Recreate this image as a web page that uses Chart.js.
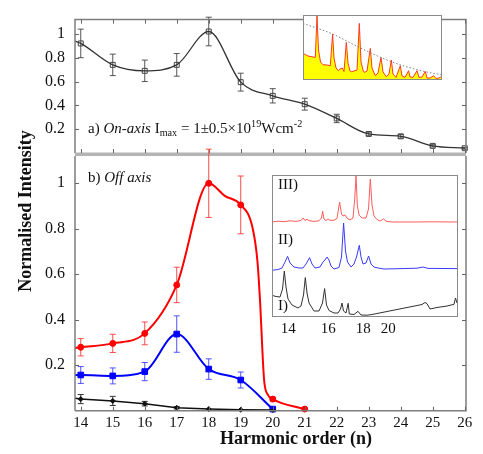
<!DOCTYPE html>
<html>
<head>
<meta charset="utf-8">
<script src="https://cdn.jsdelivr.net/npm/chart.js@4.4.0/dist/chart.umd.min.js"></script>
<style>
  html, body { margin: 0; padding: 0; background: #fff; }
  #wrap { position: relative; width: 483px; height: 454px; overflow: hidden; }
  canvas { position: absolute; }
</style>
</head>
<body>
<div id="wrap">
  <canvas id="topChart" width="483" height="454" style="left:0;top:0"></canvas>
  <canvas id="bottomChart" width="483" height="454" style="left:0;top:0"></canvas>
  <canvas id="topInset" width="139" height="65" style="left:303px;top:15px"></canvas>
  <canvas id="bottomInset" width="186" height="164" style="left:272px;top:175px"></canvas>
</div>
<script>
const SERIF = "'Liberation Serif', 'DejaVu Serif', serif";

// axes
const X_TICKS = [14, 15, 16, 17, 18, 19, 20, 21, 22, 23, 24, 25, 26];
const Y_TICKS = [0.2, 0.4, 0.6, 0.8, 1];

// a) on-axis
const TOP_HARMONICS = [14, 15, 16, 17, 18, 19, 20, 21, 22, 23, 24, 25, 26];
const TOP_VALUES = [0.92, 0.74, 0.69, 0.74, 1.02, 0.595, 0.48, 0.41, 0.29, 0.16, 0.14, 0.06, 0.04];
const TOP_ERRORS = [0.12, 0.09, 0.09, 0.095, 0.12, 0.075, 0.06, 0.05, 0.035, 0.015, 0.015, 0.01, 0.008];
const TOP_FIT_X = [13.82, 14, 15, 16, 17, 18, 19, 20, 21, 22, 23, 24, 25, 26];
const TOP_FIT_Y = [0.94, 0.92, 0.74, 0.69, 0.74, 1.02, 0.595, 0.48, 0.41, 0.29, 0.16, 0.14, 0.06, 0.04];

// b) off axis
const RED_HARMONICS = [14, 15, 16, 17, 18, 19, 20, 21];
const RED_VALUES = [0.279, 0.296, 0.34, 0.553, 1.0, 0.905, 0.051, 0.007];
const RED_ERRORS = [0.038, 0.04, 0.05, 0.078, 0.15, 0.127, 0.008, 0];
const RED_FIT_X = [13.82, 14, 15, 16, 17, 18, 18.5, 19, 19.36, 19.52, 19.6, 19.73, 19.85, 20, 21];
const RED_FIT_Y = [0.276, 0.279, 0.296, 0.34, 0.553, 1.0, 0.945, 0.905, 0.81, 0.66, 0.49, 0.135, 0.07, 0.051, 0.007];

const BLUE_HARMONICS = [14, 15, 16, 17, 18, 19, 20];
const BLUE_VALUES = [0.157, 0.153, 0.172, 0.337, 0.183, 0.135, 0.007];
const BLUE_ERRORS = [0.037, 0.035, 0.04, 0.08, 0.045, 0.035, 0];
const BLUE_FIT_X = [13.82, 14, 15, 16, 17, 18, 19, 20];
const BLUE_FIT_Y = [0.157, 0.157, 0.153, 0.172, 0.337, 0.183, 0.135, 0.007];

const BLACK_HARMONICS = [14, 15, 16, 17, 18, 19, 20];
const BLACK_VALUES = [0.051, 0.043, 0.031, 0.013, 0.007, 0.004, 0.003];
const BLACK_ERRORS = [0.02, 0.02, 0.01, 0.005, 0, 0, 0];
const BLACK_FIT_X = [13.82, 14, 15, 16, 17, 18, 19, 20];
const BLACK_FIT_Y = [0.055, 0.051, 0.043, 0.031, 0.013, 0.007, 0.004, 0.003];

// inset of panel a) : raw spectrum + envelope
const TOP_SPECTRUM = [[0,26.6],[5,24],[10,23],[12.3,22.6],[14,64],[15.5,30],[17.5,18],[20,15.3],[24,15],[27.3,14.3],
  [29.6,46],[31,22],[33,12],[35.3,9.3],[37,11],[39.3,12],[41,8.5],[43.3,37.6],[45,17],[47,9],[48.3,8.3],[51,9],
  [54,10],[56.3,56.6],[58,18],[60,10],[61.3,7.6],[64,9],[67.3,31.6],[69,12],[72.3,4.3],[75,7],[78,22.6],[80,8],
  [83.3,3.3],[86,6],[88.3,20],[90,6],[93,2.6],[97.3,14.3],[99,4],[102,2.6],[105.6,9.3],[107,3],[110,2.6],[114,9.3],
  [116,2.6],[119,3],[122.3,8.6],[124,2],[127,2],[130.6,4.3],[133,1.5],[136,2],[138,3.3],[139,2.5]];
const TOP_ENVELOPE = [[0,56.6],[29.6,46],[56.3,32.6],[88.3,18.3],[122.3,8.3],[139,5.3]];

// inset of panel b) : spectra I, II, III
const INSET_TICK_POS = [16.3, 56.3, 91.3, 116.3];
const INSET_TICK_LABELS = ['14', '16', '18', '20'];
const SPEC_III = [[0,95],[6,95.8],[12,95.3],[18,96.2],[24,95.6],[29,96.5],[31,99],[33,96.5],[35,97.8],[37,96.3],
  [42,95.6],[47,96.2],[49.5,99],[50.6,106],[52,98],[54,96.5],[56,98.2],[58,96.6],[62,96.8],[65,98.5],[67.6,115],
  [69.5,103],[71,101],[73,102],[75,99],[78,97],[81,99],[82.7,118],[84,141],[85.3,112],[87,102],[90,99],[94,99],
  [96.5,108],[98.3,138],[100,112],[102,101],[105,97.5],[108,96],[111.6,98],[114,95.8],[120,95],[140,95],[160,95.2],[186,95]];
const SPEC_II = [[0,46.7],[6,47.5],[10,49],[13,55],[15.6,60.7],[18,54],[22,50],[27,49],[31,49],[34,53],[37.6,59.4],
  [40,53],[43,49],[48,50],[51,55],[53,57],[55,60],[57,57],[59,51],[62,48],[67,49.5],[69.5,60],[71.6,94],[73.5,66],
  [75.5,55],[79,50],[82,53],[84.5,60],[87.3,71.7],[89,60],[91,53],[94,54],[96.6,61],[99,53],[102,50],[106,49],
  [112,48],[130,48.4],[145,48.8],[151,50],[156,48.6],[186,48.4]];
const SPEC_I = [[0,21.7],[4,20.5],[8,20],[10.5,28],[12.3,46],[14,30],[16,18],[20,12],[26,9],[29,11],[31.5,22],
  [33.3,39.4],[35,24],[37,14],[42,6],[47,6],[50.5,14],[52.6,28.4],[54.5,12],[57,6.5],[62,4],[66,4],[68.5,8],[70,14],
  [71.5,6],[74,4],[76.2,13.7],[77.3,3],[82,2.5],[86,5.7],[89,2],[95,1.8],[100,2.5],[110,4.5],[120,6.5],[130,8.5],
  [140,10.5],[150,12.5],[153,14.5],[155,13.4],[158,8],[165,9.5],[175,11],[182,12.7],[183.5,19],[185,14],[186,13.7]];

const toXY = (xs, ys) => xs.map((x, i) => ({ x: x, y: ys[i] }));
const pairs = (arr) => arr.map((p) => ({ x: p[0], y: p[1] }));

// draws a run of text pieces (italic / sub / sup)
function drawRich(ctx, x, y, parts, size) {
  ctx.textAlign = 'left';
  ctx.textBaseline = 'alphabetic';
  parts.forEach((p) => {
    const s = p.sub || p.sup ? size * 0.68 : size;
    ctx.font = (p.italic ? 'italic ' : '') + s + 'px ' + SERIF;
    const dy = p.sub ? 3 : p.sup ? -6 : 0;
    ctx.fillText(p.t, x, y + dy);
    x += ctx.measureText(p.t).width;
  });
}

const errorBarPlugin = {
  id: 'errorBars',
  beforeDatasetsDraw(chart) {
    const { ctx, scales: { y } } = chart;
    chart.data.datasets.forEach((ds, i) => {
      if (!ds.errors) return;
      const meta = chart.getDatasetMeta(i);
      ctx.save();
      ctx.strokeStyle = ds.errorColor;
      ctx.lineWidth = 1;
      meta.data.forEach((pt, j) => {
        const e = ds.errors[j];
        if (!e) return;
        const v = ds.data[j].y;
        const y1 = y.getPixelForValue(v + e);
        const y2 = y.getPixelForValue(v - e);
        ctx.beginPath();
        ctx.moveTo(pt.x, y1); ctx.lineTo(pt.x, y2);
        ctx.moveTo(pt.x - 3, y1); ctx.lineTo(pt.x + 3, y1);
        ctx.moveTo(pt.x - 3, y2); ctx.lineTo(pt.x + 3, y2);
        ctx.stroke();
      });
      ctx.restore();
    });
  }
};

const framePlugin = {
  id: 'frame',
  afterDraw(chart, args, opts) {
    const { ctx, chartArea: a, scales: { x, y } } = chart;
    ctx.save();
    ctx.strokeStyle = '#7d7d7d';
    ctx.lineWidth = 1.5;
    ctx.beginPath();
    ctx.moveTo(a.left, a.bottom); ctx.lineTo(a.left, a.top);
    if (opts.top) { ctx.lineTo(a.right, a.top); } else { ctx.moveTo(a.right, a.top); }
    ctx.lineTo(a.right, a.bottom);
    if (!opts.top) { ctx.lineTo(a.left, a.bottom); }
    ctx.stroke();
    if (opts.top) {
      ctx.fillStyle = '#b4b4b4';
      ctx.fillRect(a.left, a.bottom - 0.5, a.right - a.left, 3.5);
    }
    ctx.strokeStyle = '#666';
    ctx.lineWidth = 1;
    ctx.beginPath();
    X_TICKS.forEach((t) => {
      const px = Math.round(x.getPixelForValue(t)) + 0.5;
      ctx.moveTo(px, a.bottom); ctx.lineTo(px, a.bottom - 4);
      if (opts.top) { ctx.moveTo(px, a.top); ctx.lineTo(px, a.top + 4); }
    });
    Y_TICKS.forEach((t) => {
      const py = Math.round(y.getPixelForValue(t)) + 0.5;
      ctx.moveTo(a.left, py); ctx.lineTo(a.left + 4, py);
      ctx.moveTo(a.right, py); ctx.lineTo(a.right - 4, py);
    });
    ctx.stroke();
    ctx.fillStyle = '#111';
    if (opts.top) {
      drawRich(ctx, 88, 133, [
        { t: 'a) ' }, { t: 'On-axis', italic: true }, { t: ' I' }, { t: 'max', sub: true },
        { t: ' = 1\u00b10.5\u00d710' }, { t: '19', sup: true }, { t: 'Wcm' }, { t: '-2', sup: true }
      ], 15);
    } else {
      drawRich(ctx, 88, 182, [{ t: 'b) ' }, { t: 'Off axis', italic: true }], 15);
      ctx.font = 'bold 18px ' + SERIF;
      ctx.textAlign = 'center';
      ctx.textBaseline = 'middle';
      ctx.fillText('Harmonic order (n)', 296, 439);
      ctx.save();
      ctx.translate(26, 211);
      ctx.rotate(-Math.PI / 2);
      ctx.fillText('Normalised Intensity', 0, 0);
      ctx.restore();
    }
    ctx.restore();
  }
};

function yScale() {
  return {
    min: 0, max: 1.12,
    grid: { display: false, drawTicks: false }, border: { display: false },
    afterBuildTicks: (s) => { s.ticks = Y_TICKS.map((v) => ({ value: v })); },
    afterFit: (s) => { s.width = 75; },
    ticks: {
      padding: 10, color: '#111', font: { family: SERIF, size: 16 },
      callback: (v) => (v === 1 ? '1' : v.toFixed(1))
    }
  };
}

function xScale(show) {
  return {
    type: 'linear', min: 13.82, max: 26.04, display: show,
    grid: { display: false, drawTicks: false }, border: { display: false },
    afterBuildTicks: (s) => { s.ticks = X_TICKS.map((v) => ({ value: v })); },
    afterFit: (s) => { s.height = show ? 43.3 : 0; },
    ticks: {
      padding: 3, color: '#111', autoSkip: false, maxRotation: 0, minRotation: 0,
      font: { family: SERIF, size: 15 }, callback: (v) => String(v)
    }
  };
}

function curve(xs, ys, color, width, tension) {
  return {
    data: toXY(xs, ys), borderColor: color, borderWidth: width, pointRadius: 0,
    cubicInterpolationMode: tension ? 'monotone' : 'default', tension: 0
  };
}

function markers(xs, ys, errs, style, radius, color, fill, errColor) {
  return {
    data: toXY(xs, ys), showLine: false, pointStyle: style, pointRadius: radius,
    borderColor: color, backgroundColor: fill, pointBorderWidth: 1,
    errors: errs, errorColor: errColor, clip: false
  };
}

const baseOptions = {
  responsive: false, animation: false,
  plugins: { legend: { display: false }, tooltip: { enabled: false } }
};

new Chart(document.getElementById('topChart'), {
  type: 'line',
  data: {
    datasets: [
      curve(TOP_FIT_X, TOP_FIT_Y, '#333', 1.3, true),
      markers(TOP_HARMONICS, TOP_VALUES, TOP_ERRORS, 'rect', 3.5, '#444', 'rgba(0,0,0,0)', '#555')
    ]
  },
  options: {
    ...baseOptions,
    layout: { padding: { top: 4, right: 17, bottom: 301, left: 0 } },
    scales: { x: xScale(false), y: yScale() },
    plugins: { ...baseOptions.plugins, frame: { top: true } }
  },
  plugins: [errorBarPlugin, framePlugin]
});

new Chart(document.getElementById('bottomChart'), {
  type: 'line',
  data: {
    datasets: [
      curve(BLACK_FIT_X, BLACK_FIT_Y, '#111', 1.5, false),
      curve(BLUE_FIT_X, BLUE_FIT_Y, '#0000ff', 2, true),
      curve(RED_FIT_X, RED_FIT_Y, '#ff0000', 2, true),
      markers(BLACK_HARMONICS, BLACK_VALUES, BLACK_ERRORS, 'rectRot', 2.5, '#111', '#111', '#333'),
      markers(BLUE_HARMONICS, BLUE_VALUES, BLUE_ERRORS, 'rect', 4, '#0000ff', '#0000ff', '#5050ff'),
      markers(RED_HARMONICS, RED_VALUES, RED_ERRORS, 'circle', 3, '#ff0000', '#ff0000', '#ff4a4a')
    ]
  },
  options: {
    ...baseOptions,
    layout: { padding: { top: 156, right: 17, bottom: 0, left: 0 } },
    scales: { x: xScale(true), y: yScale() },
    plugins: { ...baseOptions.plugins, frame: { top: false } }
  },
  plugins: [errorBarPlugin, framePlugin]
});

const insetPlugin = {
  id: 'insetBox',
  beforeDraw(chart) {
    const { ctx, chartArea: a } = chart;
    ctx.save();
    ctx.fillStyle = '#fff';
    ctx.fillRect(a.left, a.top, a.right - a.left, a.bottom - a.top);
    ctx.restore();
  },
  afterDraw(chart, args, opts) {
    const { ctx, chartArea: a } = chart;
    ctx.save();
    ctx.strokeStyle = '#8a8a8a';
    ctx.lineWidth = 1;
    ctx.strokeRect(a.left + 0.5, a.top + 0.5, a.right - a.left - 1, a.bottom - a.top - 1);
    if (opts.labels) {
      ctx.fillStyle = '#111';
      ctx.font = '15px ' + SERIF;
      ctx.textAlign = 'left';
      ctx.textBaseline = 'middle';
      opts.labels.forEach((l) => ctx.fillText(l[0], l[1], l[2]));
    }
    ctx.restore();
  }
};

new Chart(document.getElementById('topInset'), {
  type: 'line',
  data: {
    datasets: [
      { data: pairs(TOP_ENVELOPE), borderColor: '#808080', borderWidth: 1, borderDash: [1.5, 2],
        pointRadius: 0, cubicInterpolationMode: 'monotone' },
      { data: pairs(TOP_SPECTRUM), borderColor: '#ff3a1e', borderWidth: 1, pointRadius: 0,
        fill: 'origin', backgroundColor: '#ffff00', tension: 0 }
    ]
  },
  options: {
    ...baseOptions,
    layout: { padding: 0 },
    scales: {
      x: { type: 'linear', min: 0, max: 139, display: false },
      y: { min: 0, max: 65, display: false }
    },
    plugins: { ...baseOptions.plugins, insetBox: {} }
  },
  plugins: [insetPlugin]
});

new Chart(document.getElementById('bottomInset'), {
  type: 'line',
  data: {
    datasets: [
      { data: pairs(SPEC_III), borderColor: '#ff5c5c', borderWidth: 1, pointRadius: 0, tension: 0 },
      { data: pairs(SPEC_II), borderColor: '#3b3bff', borderWidth: 1, pointRadius: 0, tension: 0 },
      { data: pairs(SPEC_I), borderColor: '#333', borderWidth: 1, pointRadius: 0, tension: 0 }
    ]
  },
  options: {
    ...baseOptions,
    layout: { padding: 0 },
    scales: {
      x: {
        type: 'linear', min: 0, max: 186,
        grid: { display: false, drawTicks: false }, border: { display: false },
        afterBuildTicks: (s) => { s.ticks = INSET_TICK_POS.map((v) => ({ value: v })); },
        afterFit: (s) => { s.height = 22; },
        ticks: {
          padding: 3, color: '#111', autoSkip: false, maxRotation: 0,
          font: { family: SERIF, size: 15 }, callback: (v, i) => INSET_TICK_LABELS[i]
        }
      },
      y: { min: 0, max: 142, display: false }
    },
    plugins: {
      ...baseOptions.plugins,
      insetBox: { labels: [['III)', 6, 10], ['II)', 6, 65], ['I)', 6, 131]] }
    }
  },
  plugins: [insetPlugin]
});
</script>
</body>
</html>
